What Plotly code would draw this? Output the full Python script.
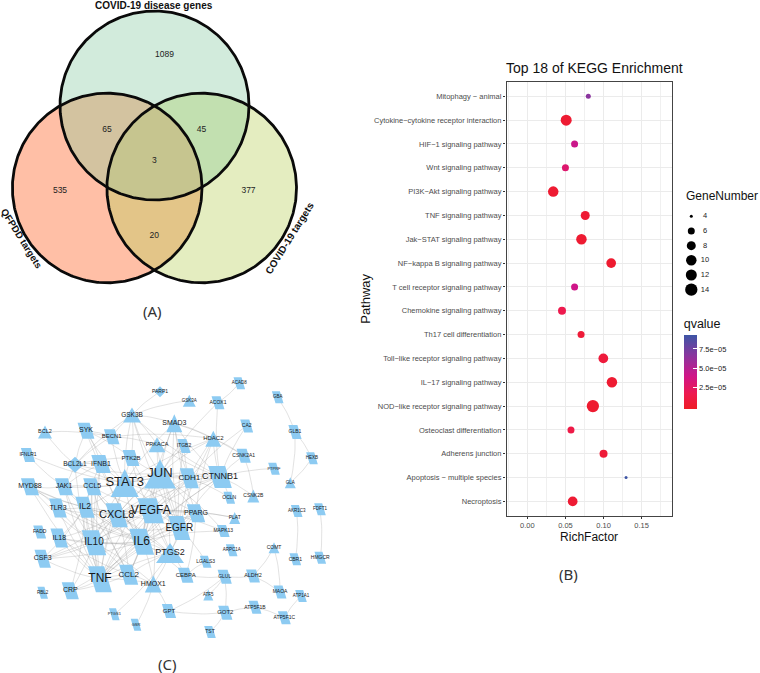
import numpy as np
import plotly.graph_objects as go

W, H = 760, 673
FONT = "Liberation Sans"

# ---------- KEGG dot plot data ----------
pathways = ["Mitophagy − animal", "Cytokine−cytokine receptor interaction", "HIF−1 signaling pathway",
            "Wnt signaling pathway", "PI3K−Akt signaling pathway", "TNF signaling pathway",
            "Jak−STAT signaling pathway", "NF−kappa B signaling pathway", "T cell receptor signaling pathway",
            "Chemokine signaling pathway", "Th17 cell differentiation", "Toll−like receptor signaling pathway",
            "IL−17 signaling pathway", "NOD−like receptor signaling pathway", "Osteoclast differentiation",
            "Adherens junction", "Apoptosis − multiple species", "Necroptosis"]
rich_factor = [0.080, 0.051, 0.062, 0.050, 0.034, 0.076, 0.071, 0.110, 0.062,
               0.0455, 0.0705, 0.0997, 0.111, 0.086, 0.0573, 0.100, 0.1295, 0.0595]
gene_number = [5, 12, 6, 6, 10, 8, 10, 9, 6, 7, 6, 9, 10, 14, 6, 7, 4, 9]
qvalue = [6.6e-5, 0.3e-5, 4.2e-5, 2.9e-5, 0.3e-5, 0.4e-5, 0.3e-5, 0.2e-5, 4.0e-5,
          1.6e-5, 0.6e-5, 0.8e-5, 0.3e-5, 0.2e-5, 1.3e-5, 0.6e-5, 9.3e-5, 0.4e-5]
legend_genes = [4, 6, 8, 10, 12, 14]
legend_diameters = [3, 7, 9, 10.5, 11, 12.3]
q_ticks = [2.5e-5, 5.0e-5, 7.5e-5]
q_ticktext = ["2.5e−05", "5.0e−05", "7.5e−05"]

# ---------- Venn data ----------
venn_numbers = ["1089", "65", "45", "3", "535", "377", "20"]

# ---------- Network data: name, x, y, kind, width, height, font ----------
nodes = [
 ("PARP1",160,391.7,"d",11,11,5),("GSK3B",132,415,"t",18,15,6.5),("BCL2",45,432,"t",14,13,5.5),
 ("SYK",86,430.7,"p",12,16,7),("BECN1",111.7,436.7,"p",11,15,6),("IFNLR1",28,455,"p",10,14,5),
 ("PRKACA",157,444.7,"t",17,15,5.5),("PTK2B",131,458,"p",12,16,6),("BCL2L1",75,464.7,"d",17,16,6.5),
 ("IFNB1",101,464,"p",14,18,7),("STAT3",124.7,483,"t",28,28,13),("JUN",160,474,"t",32,29,13),
 ("MYD88",30,486.7,"p",13,17,7),("JAK1",64,486.7,"p",13,17,7),("CCL5",92.3,486.7,"p",13,17,7),
 ("ACAD8",239.3,383.3,"p",8,12,4.5),("GSK3A",189.3,400.7,"t",13,12,4.5),("ACOX1",218,402.7,"p",9,13,5),
 ("GBA",277.7,397.3,"p",8,12,4.5),("SMAD3",174.3,423.3,"t",16,18,7),("CA2",246.7,426,"p",9,13,5),
 ("GLB1",295,432,"p",9,14,5),("HDAC2",213.3,438.7,"t",16,16,6),("ITGB2",184,446,"p",9,14,5),
 ("CSNK2A1",243.7,455.7,"p",10,14,5),("HEXB",312,458.3,"p",8,12,4.5),("PTPRF",274,468.7,"p",8,12,4),
 ("GLA",290.3,482.7,"t",11,11,4.5),("CDH1",189.3,478.3,"p",13,20,8),("CTNNB1",220,477,"p",17,22,9),
 ("TLR3",58,508,"p",12,19,7),("IL2",85,507.3,"p",13,21,8.5),("CXCL8",116.7,515.3,"p",15,24,11),
 ("VEGFA",150.7,510.7,"p",19,25,12),("FADD",39.7,532,"p",9,13,5),("IL18",59.3,538,"p",12,19,7),
 ("IL10",94,542.7,"p",17,25,10),("IL6",141.7,541.7,"p",17,26,12),("EGFR",179.3,528,"p",15,24,10),
 ("CSF3",42.7,558.7,"p",11,18,7),("PTGS2",170,553,"t",28,20,9),("CCL2",128.7,574.7,"p",13,20,8),
 ("TNF",100,579.3,"p",16,26,12),("HMOX1",153.3,584,"t",17,17,7),("CRP",70.3,590.7,"p",12,17,7),
 ("RBL2",42.7,592.7,"p",7,12,4.5),("PTGS1",114.3,614.3,"p",7,12,4),("GSR",136,624.7,"p",7,12,4),
 ("CSNK2B",253.3,496,"t",12,13,5),("OCLN",229.3,497.7,"p",8,12,5),("AKR1C3",296.7,511,"p",8,12,4.5),
 ("FDFT1",320,509.3,"p",8,12,4.5),("PPARG",196,513.3,"p",13,18,7),("PLAT",234.7,518,"t",11,12,5),
 ("MAPK13",223.3,531,"p",9,12,5),("COMT",274,547.7,"t",11,11,5),("ARPC1A",231.7,550.3,"p",8,12,4.5),
 ("CBR1",295.3,559.3,"p",8,12,5),("HMGCR",320.3,557.7,"p",8,12,5),("LGALS3",205.7,561.7,"p",8,12,5),
 ("CEBPA",185.7,575.3,"p",11,15,6),("GLUL",224.7,576.7,"p",10,14,5),("ALDH2",253,576,"p",10,13,5.5),
 ("MAOA",280,592,"p",9,13,5),("ATF5",208.3,595,"t",10,11,4.5),("ATP1A1",301,596,"p",8,12,4.5),
 ("GPT",169,611,"p",10,14,6),("GOT2",225.3,612.7,"p",10,14,6),("ATP5F1B",255,607.3,"p",9,13,5),
 ("ATP5F1C",284.3,617.7,"p",9,13,5),("TST",210,632,"p",8,12,5),
]
neighbours = {
 "TNF": "IL6 IL10 CXCL8 VEGFA STAT3 JUN EGFR IL2 CCL2 PTGS2 CTNNB1 CRP CSF3 IL18 TLR3 MYD88 HMOX1 CCL5 IFNB1 BCL2L1 JAK1 CDH1 PPARG",
 "IL6": "IL10 CXCL8 VEGFA STAT3 JUN EGFR IL2 CCL2 PTGS2 CTNNB1 CRP CSF3 IL18 TLR3 MYD88 HMOX1 CCL5 IFNB1 JAK1 CDH1 PPARG SMAD3 MAPK13 CEBPA SYK",
 "IL10": "CXCL8 VEGFA STAT3 JUN EGFR IL2 CCL2 PTGS2 CRP CSF3 IL18 TLR3 MYD88 CCL5 IFNB1 JAK1 HMOX1",
 "CXCL8": "VEGFA STAT3 JUN EGFR IL2 CCL2 PTGS2 CSF3 IL18 TLR3 MYD88 CCL5 CTNNB1 CDH1 PPARG",
 "VEGFA": "STAT3 JUN EGFR IL2 CCL2 PTGS2 CTNNB1 CDH1 PPARG HMOX1 PTK2B PLAT MAPK13 CCL5 CSF3",
 "STAT3": "JUN EGFR IL2 CTNNB1 CDH1 PPARG JAK1 IFNB1 BCL2L1 HDAC2 SMAD3 GSK3B PTK2B BECN1 IFNLR1 SYK CCL5 PTGS2",
 "JUN": "EGFR CTNNB1 CDH1 PPARG SMAD3 HDAC2 GSK3B PRKACA ITGB2 PTK2B ACOX1 BCL2L1 MAPK13 PTGS2 CCL2",
 "EGFR": "CTNNB1 CDH1 PPARG PTK2B PRKACA SMAD3 GSK3B HDAC2 PTGS2 ITGB2 LGALS3",
 "CTNNB1": "CDH1 GSK3B SMAD3 HDAC2 CSNK2A1 CSNK2B PTPRF CA2 OCLN PRKACA ACOX1",
 "CDH1": "OCLN SMAD3 HDAC2 ITGB2 CA2",
 "IL2": "JAK1 CCL5 IFNB1 CCL2 IL18 CSF3 TLR3 MYD88 CRP",
 "CCL2": "CCL5 CRP HMOX1 PTGS2 IL18",
 "PTGS2": "PPARG HMOX1 PTGS1 CCL5 CEBPA",
 "PPARG": "CEBPA PLAT SMAD3 HDAC2",
 "BCL2L1": "BCL2 SYK JAK1 BECN1 GSK3B IFNB1 PTK2B",
 "BCL2": "BECN1",
 "SYK": "IFNB1 PTK2B BECN1",
 "BECN1": "GSK3B PRKACA HDAC2",
 "GSK3B": "PRKACA GSK3A PTK2B PARP1 SMAD3",
 "SMAD3": "HDAC2 CSNK2A1",
 "HDAC2": "CSNK2A1",
 "CSNK2A1": "CSNK2B",
 "JAK1": "IFNB1 MYD88 CCL5 IFNLR1",
 "MYD88": "TLR3",
 "ACAD8": "ACOX1",
 "GBA": "GLB1",
 "GLB1": "HEXB GLA",
 "HEXB": "GLA",
 "AKR1C3": "CBR1",
 "FDFT1": "HMGCR",
 "COMT": "ALDH2 MAOA",
 "ALDH2": "MAOA GLUL",
 "GLUL": "GOT2 GPT ATF5 CEBPA",
 "GOT2": "TST GPT ATP5F1B",
 "ATP5F1B": "ATP5F1C",
 "ATP5F1C": "ATP1A1",
 "HMOX1": "GSR GPT",
 "CEBPA": "LGALS3",
}

# ---------- helpers ----------
def circle(cx, cy, r, n=361):
    t = np.linspace(0, 2*np.pi, n)
    return cx + r*np.cos(t), cy + r*np.sin(t)

def region(circles):
    """Outline of the intersection of the given circles (convex)."""
    xs, ys = [], []
    for i, (cx, cy, r) in enumerate(circles):
        x, y = circle(cx, cy, r, 1441)
        mask = np.ones_like(x, bool)
        for j, (ox, oy, orr) in enumerate(circles):
            if j != i:
                mask &= (x-ox)**2 + (y-oy)**2 <= orr**2
        xs.append(x[mask]); ys.append(y[mask])
    xs, ys = np.concatenate(xs), np.concatenate(ys)
    order = np.argsort(np.arctan2(ys-ys.mean(), xs-xs.mean()))
    xs, ys = xs[order], ys[order]
    return np.append(xs, xs[0]), np.append(ys, ys[0])

def node_poly(x, y, kind, w, h):
    if kind == "p":
        s = 0.3*h/2
        return [x-w/2-s, x+w/2-s, x+w/2+s, x-w/2+s, x-w/2-s], [y-h/2, y-h/2, y+h/2, y+h/2, y-h/2]
    if kind == "t":
        return [x, x+w/2, x-w/2, x], [y-h/2, y+h/2, y+h/2, y-h/2]
    return [x, x+w/2, x, x-w/2, x], [y-h/2, y, y+h/2, y, y-h/2]

def gene_dia(g):
    return np.interp(g, legend_genes, legend_diameters)

fig = go.Figure()

# ---------- dot plot ----------
fig.add_trace(go.Scatter(
    x=rich_factor, y=pathways, mode="markers", hoverinfo="skip", showlegend=False,
    marker=dict(size=gene_dia(gene_number), color=qvalue, cmin=-0.3e-5, cmax=9.3e-5, opacity=1,
                line=dict(width=0),
                colorscale=[[0, "#EE1C25"], [0.2, "#EE1A4E"], [0.45, "#CF1588"], [0.72, "#8A359E"], [1, "#3D55A5"]],
                colorbar=dict(x=683.7/W, xanchor="left", y=1-362.5/H, yanchor="middle", xpad=0, ypad=0,
                              lenmode="pixels", len=93, thicknessmode="pixels", thickness=13.3,
                              outlinewidth=0, ticks="inside", ticklen=4, tickwidth=0.8, tickcolor="white",
                              tickvals=q_ticks, ticktext=q_ticktext,
                              tickfont=dict(family=FONT, size=7.5, color="#222"),
                              title=dict(text="qvalue", side="top", font=dict(family=FONT, size=12.5, color="#111"))))))

# ---------- Venn ----------
c_top, c_left, c_right = (154.5, 105.5, 94.5), (107.2, 188, 94.8), (201.7, 188, 94.8)
def fill_region(xy, color):
    fig.add_trace(go.Scatter(x=xy[0], y=xy[1], xaxis="x2", yaxis="y2", mode="lines", fill="toself",
                             fillcolor=color, line=dict(width=0), hoverinfo="skip", showlegend=False))
fill_region(circle(*c_top), "#D2EBDC")
fill_region(circle(*c_left), "#FFBFA6")
fill_region(circle(*c_right), "#E4EDC0")
fill_region(region([c_top, c_left]), "#D3C3A0")
fill_region(region([c_top, c_right]), "#C2E0B0")
fill_region(region([c_left, c_right]), "#E3C588")
fill_region(region([c_top, c_left, c_right]), "#C6C58F")
for c in (c_top, c_left, c_right):
    x, y = circle(*c)
    fig.add_trace(go.Scatter(x=x, y=y, xaxis="x2", yaxis="y2", mode="lines",
                             line=dict(color="#0a0a0a", width=2.8), hoverinfo="skip", showlegend=False))
fig.add_trace(go.Scatter(
    x=[164.5, 107, 201.5, 154.3, 60, 248.5, 154.3], y=[55, 129.5, 129.5, 160.5, 191, 191, 235.5],
    xaxis="x2", yaxis="y2", mode="text", text=venn_numbers, hoverinfo="skip", showlegend=False,
    textfont=dict(family=FONT, size=8.5, color="#222")))

# ---------- network ----------
pos = {n[0]: n for n in nodes}
ex, ey = [], []
for a, bs in neighbours.items():
    for b in bs.split():
        x0, y0, x1, y1 = pos[a][1], pos[a][2], pos[b][1], pos[b][2]
        mx, my = (x0+x1)/2 + 0.07*(y1-y0), (y0+y1)/2 - 0.07*(x1-x0)
        t = np.linspace(0, 1, 13)
        ex += list((1-t)**2*x0 + 2*t*(1-t)*mx + t**2*x1) + [None]
        ey += list((1-t)**2*y0 + 2*t*(1-t)*my + t**2*y1) + [None]
fig.add_trace(go.Scatter(x=ex, y=ey, xaxis="x2", yaxis="y2", mode="lines", hoverinfo="skip", showlegend=False,
                         line=dict(color="rgba(140,140,140,0.36)", width=0.7)))
px, py = [], []
for name, x, y, kind, w, h, fs in nodes:
    a, b = node_poly(x, y, kind, w, h)
    px += a + [None]; py += b + [None]
fig.add_trace(go.Scatter(x=px, y=py, xaxis="x2", yaxis="y2", mode="lines", fill="toself", fillcolor="#8DCBF2",
                         line=dict(width=0), hoverinfo="skip", showlegend=False))
fig.add_trace(go.Scatter(x=[n[1] for n in nodes], y=[n[2] for n in nodes], xaxis="x2", yaxis="y2", mode="text",
                         text=[n[0] for n in nodes], hoverinfo="skip", showlegend=False,
                         textfont=dict(family=FONT, size=[n[6] for n in nodes], color="#1a1a1a")))

# ---------- size legend ----------
leg_y = [170 + v/3 for v in (139, 183, 227, 271, 315, 359)]
fig.add_trace(go.Scatter(x=[691.3]*6, y=leg_y, xaxis="x2", yaxis="y2", mode="markers", hoverinfo="skip",
                         showlegend=False, marker=dict(color="black", opacity=1, size=gene_dia(legend_genes), line=dict(width=0))))
fig.add_trace(go.Scatter(x=[705]*6, y=leg_y, xaxis="x2", yaxis="y2", mode="text", text=[str(g) for g in legend_genes],
                         hoverinfo="skip", showlegend=False, textfont=dict(family=FONT, size=7.5, color="#222")))

def note(x, y, text, size, family=FONT, color="#111", angle=0, bold=False, anchor="center"):
    fig.add_annotation(x=x, y=y, xref="x2", yref="y2", text=f"<b>{text}</b>" if bold else text, showarrow=False,
                       textangle=angle, xanchor=anchor, yanchor="middle",
                       font=dict(family=family, size=size, color=color))

note(154, 5.5, "COVID-19 disease genes", 10, bold=True)
note(22, 238, "QFPDD targets", 9.6, bold=True, angle=58)
note(289, 238, "COVID-19 targets", 10, bold=True, angle=-58)
note(152, 311, "(A)", 15, family="Noto Sans", color="#333")
note(568, 574, "(B)", 15, family="Noto Sans", color="#333")
note(167, 664, "(C)", 15, family="Noto Sans", color="#333")
note(684, 196, "GeneNumber", 12, anchor="left")

# ---------- layout ----------
fig.update_layout(
    width=W, height=H, autosize=False, margin=dict(l=0, r=0, t=0, b=0),
    paper_bgcolor="white", plot_bgcolor="rgba(0,0,0,0)", showlegend=False,
    title=dict(text="Top 18 of KEGG Enrichment", x=506/W, xref="paper", xanchor="left",
               y=1-68/H, yref="paper", yanchor="middle", font=dict(family=FONT, size=14, color="#111")),
    xaxis=dict(domain=[506.5/W, 671.7/W], range=[-0.0273, 0.1894], anchor="y", tickvals=[0, .05, .10, .15],
               ticktext=["0.00", "0.05", "0.10", "0.15"], ticks="outside", ticklen=2.5, tickwidth=1, tickcolor="#333",
               tickfont=dict(family=FONT, size=7.5, color="#4D4D4D"), showgrid=True, gridcolor="#EBEBEB", gridwidth=1,
               minor=dict(dtick=0.025, tick0=0, showgrid=True, gridcolor="#F0F0F0", gridwidth=0.6),
               showline=True, mirror=True, linecolor="#444", linewidth=1.2, zeroline=False,
               title=dict(text="RichFactor", standoff=2, font=dict(family=FONT, size=12, color="#111"))),
    yaxis=dict(domain=[1-515.7/H, 1-82/H], type="category", categoryorder="array", categoryarray=pathways,
               range=[17.6, -0.6], anchor="x", ticks="outside", ticklen=2.5, tickwidth=1, tickcolor="#333",
               tickfont=dict(family=FONT, size=7.5, color="#4D4D4D"), showgrid=True, gridcolor="#EBEBEB", gridwidth=1,
               showline=True, mirror=True, linecolor="#444", linewidth=1.2, zeroline=False,
               title=dict(text="Pathway", standoff=0, font=dict(family=FONT, size=13, color="#111"))),
    xaxis2=dict(domain=[0, 1], range=[0, W], anchor="y2", visible=False, fixedrange=True),
    yaxis2=dict(domain=[0, 1], range=[H, 0], anchor="x2", visible=False, fixedrange=True),
)
fig.write_html("out.html", config={"displayModeBar": False}, post_script="document.body.style.margin='0';")
